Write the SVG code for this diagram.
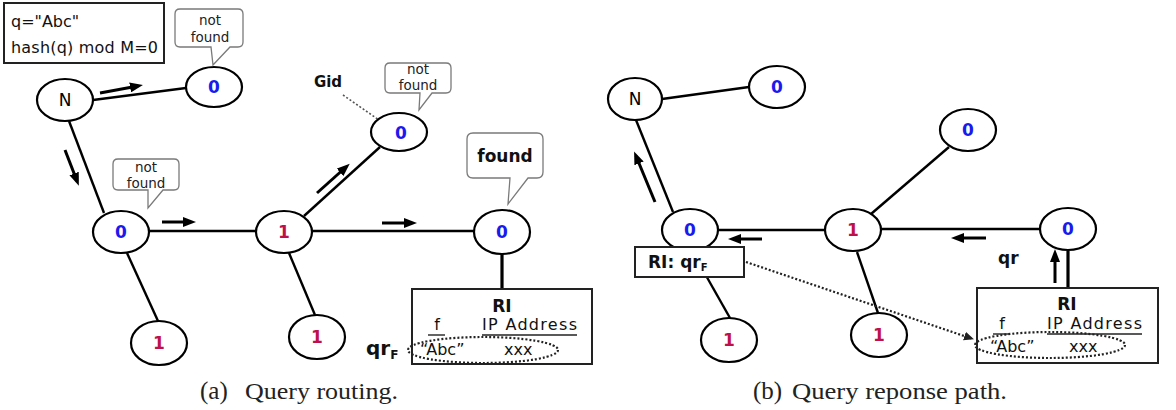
<svg xmlns="http://www.w3.org/2000/svg" width="1176" height="410" viewBox="0 0 1176 410">
<defs>
<marker id="ah" markerUnits="userSpaceOnUse" markerWidth="13" markerHeight="10" refX="8" refY="5" orient="auto">
<path d="M0,0 L13,5 L0,10 Z" fill="#000"/>
</marker>
<marker id="ahs" markerUnits="userSpaceOnUse" markerWidth="10" markerHeight="9" refX="9" refY="4.5" orient="auto">
<path d="M0,0 L10,4.5 L0,9 Z" fill="#222"/>
</marker>
<marker id="ahg" markerUnits="userSpaceOnUse" markerWidth="10" markerHeight="9" refX="9" refY="4.5" orient="auto">
<path d="M0,0.5 L9,4.5 L0,8.5" fill="none" stroke="#555" stroke-width="1.5"/>
</marker>
</defs>
<style>
.nd{fill:#fff;stroke:#000;stroke-width:2.2}
.ed{stroke:#000;stroke-width:2.4;fill:none}
.thick{stroke:#000;stroke-width:3.2}
.arr{stroke:#000;stroke-width:3;marker-end:url(#ah)}
.t{font-family:"DejaVu Sans",sans-serif;text-anchor:middle}
.b0{fill:#1a1aee;font-weight:bold;font-size:17px}
.b1{fill:#c0104a;font-weight:bold;font-size:17px}
.bub{fill:#fff;stroke:#7a7a7a;stroke-width:1.3}
.bt{font-family:"DejaVu Sans",sans-serif;font-size:13.5px;fill:#222;text-anchor:middle}
.box{fill:#fff;stroke:#222;stroke-width:2}
.rt{font-family:"DejaVu Sans",sans-serif;font-size:16px;fill:#111}
.cap{font-family:"Liberation Serif",serif;fill:#222}
.dot{stroke:#222;stroke-width:2.2;stroke-dasharray:2 2;fill:none}
</style>

<!-- connectors -->
<g id="connectors">
<!-- panel a edges -->
<line class="ed" x1="93" y1="100" x2="186" y2="88"/>
<line class="ed" x1="69" y1="121" x2="104" y2="213"/>
<line class="ed" x1="149" y1="231" x2="256" y2="231"/>
<line class="ed" x1="304" y1="216" x2="380" y2="147"/>
<line class="ed" x1="312" y1="231" x2="474" y2="231"/>
<line class="ed" x1="127" y1="253" x2="158" y2="321"/>
<line class="ed" x1="289" y1="253" x2="315" y2="315"/>
<line class="thick" x1="502" y1="254" x2="502" y2="289"/>
<!-- panel a arrows -->
<line class="arr" x1="100" y1="93" x2="138" y2="86"/>
<line class="arr" x1="65" y1="150" x2="77" y2="181"/>
<line class="arr" x1="162" y1="222" x2="191" y2="222"/>
<line class="arr" x1="317" y1="193" x2="346" y2="167"/>
<line class="arr" x1="382" y1="223" x2="412" y2="223"/>
<line x1="343" y1="95" x2="389" y2="127" stroke="#555" stroke-width="1.6" stroke-dasharray="2 2" marker-end="url(#ahg)"/>
<!-- panel b edges -->
<line class="ed" x1="662" y1="99" x2="749" y2="87"/>
<line class="ed" x1="636" y1="120" x2="673" y2="212"/>
<line class="ed" x1="718" y1="230" x2="825" y2="230"/>
<line class="ed" x1="871" y1="214" x2="949" y2="147"/>
<line class="ed" x1="881" y1="229" x2="1040" y2="229"/>
<line class="ed" x1="700" y1="265" x2="730" y2="318"/>
<line class="ed" x1="857" y1="252" x2="878" y2="313"/>
<line class="thick" x1="1068" y1="251" x2="1068" y2="288"/>
<!-- panel b arrows -->
<line class="arr" x1="655" y1="202" x2="636" y2="156"/>
<line class="arr" x1="762" y1="239" x2="733" y2="239"/>
<line class="arr" x1="986" y1="238" x2="956" y2="238"/>
<line class="arr" x1="1055" y1="283" x2="1055" y2="254"/>
</g>

<!-- query box -->
<g id="query-box">
<rect class="box" x="4" y="3" width="160" height="60"/>
<text class="rt" x="11" y="27" font-size="16">q="Abc"</text>
<text class="rt" x="11" y="53" font-size="16" textLength="147">hash(q) mod M=0</text>
</g>

<!-- panel a nodes -->
<g id="a-N"><ellipse class="nd" cx="65" cy="100" rx="28" ry="21"/><text class="t" x="65" y="106" font-size="17">N</text></g>
<g id="a-top0"><ellipse class="nd" cx="214" cy="87" rx="28" ry="20"/><text class="t b0" x="214" y="93">0</text></g>
<g id="a-mid0"><ellipse class="nd" cx="121" cy="232" rx="28" ry="21"/><text class="t b0" x="121" y="238">0</text></g>
<g id="a-mid1"><ellipse class="nd" cx="284" cy="232" rx="28" ry="21"/><text class="t b1" x="284" y="238">1</text></g>
<g id="a-gid0"><ellipse class="nd" cx="399" cy="132" rx="28" ry="19"/><text class="t b0" x="401" y="139">0</text></g>
<g id="a-right0"><ellipse class="nd" cx="502" cy="232" rx="28" ry="22"/><text class="t b0" x="502" y="238">0</text></g>
<g id="a-bot1a"><ellipse class="nd" cx="159" cy="343" rx="28" ry="22"/><text class="t b1" x="159" y="349">1</text></g>
<g id="a-bot1b"><ellipse class="nd" cx="317" cy="337" rx="28" ry="22"/><text class="t b1" x="317" y="343">1</text></g>

<!-- bubbles -->
<g id="bubble-a1">
<path class="bub" d="M180,9 H238 Q243,9 243,14 V42 Q243,47 238,47 H230 L213,65 L211,47 H180 Q175,47 175,42 V14 Q175,9 180,9 Z"/>
<text class="bt" x="210" y="25">not</text><text class="bt" x="210" y="42">found</text>
</g>
<g id="bubble-a2">
<path class="bub" d="M390,63 H446 Q451,63 451,68 V88 Q451,93 446,93 H432 L419,110 L420,93 H390 Q385,93 385,88 V68 Q385,63 390,63 Z"/>
<text class="bt" x="418" y="74">not</text><text class="bt" x="418" y="90">found</text>
</g>
<g id="bubble-a3">
<path class="bub" d="M118,159 H174 Q179,159 179,164 V185 Q179,190 174,190 H163 L148,208 L148,190 H118 Q113,190 113,185 V164 Q113,159 118,159 Z"/>
<text class="bt" x="146" y="172">not</text><text class="bt" x="146" y="188">found</text>
</g>
<g id="bubble-found">
<path class="bub" d="M473,133 H537 Q543,133 543,139 V172 Q543,178 537,178 H528 L508,204 L510,178 H473 Q467,178 467,172 V139 Q467,133 473,133 Z"/>
<text class="t" x="505" y="162" font-size="17" font-weight="bold" fill="#111">found</text>
</g>

<g id="gid-label"><text class="t" x="328" y="87" font-size="15" font-weight="bold" fill="#111">Gid</text></g>

<!-- RI box panel a -->
<g id="a-RI">
<rect class="box" x="412" y="289" width="180" height="75"/>
<text class="t" x="502" y="312" font-size="17" font-weight="bold" fill="#111">RI</text>
<text class="rt" x="437" y="330" text-anchor="middle">f</text>
<text class="rt" x="482" y="330" textLength="95">IP Address</text>
<line x1="428" y1="335" x2="445" y2="335" stroke="#222" stroke-width="1.4"/>
<line x1="482" y1="335" x2="577" y2="335" stroke="#222" stroke-width="1.4"/>
<text class="rt" x="420" y="355">“Abc”</text>
<text class="rt" x="504" y="355">xxx</text>
<ellipse class="dot" cx="483" cy="350" rx="75" ry="13"/>
</g>
<g id="a-qrF">
<text x="366" y="355" font-family="DejaVu Sans,sans-serif" font-size="20" font-weight="bold" fill="#111">qr<tspan font-size="12" dy="4">F</tspan></text>
</g>

<!-- panel b nodes -->
<g id="b-N"><ellipse class="nd" cx="635" cy="99" rx="27" ry="21"/><text class="t" x="635" y="105" font-size="17">N</text></g>
<g id="b-top0"><ellipse class="nd" cx="777" cy="87" rx="28" ry="21"/><text class="t b0" x="777" y="93">0</text></g>
<g id="b-mid0"><ellipse class="nd" cx="690" cy="230" rx="28" ry="21"/><text class="t b0" x="690" y="236">0</text></g>
<g id="b-mid1"><ellipse class="nd" cx="853" cy="230" rx="28" ry="21"/><text class="t b1" x="853" y="236">1</text></g>
<g id="b-topright0"><ellipse class="nd" cx="968" cy="130" rx="28" ry="21"/><text class="t b0" x="968" y="136">0</text></g>
<g id="b-right0"><ellipse class="nd" cx="1068" cy="229" rx="28" ry="21"/><text class="t b0" x="1068" y="235">0</text></g>
<g id="b-bot1a"><ellipse class="nd" cx="729" cy="340" rx="28" ry="22"/><text class="t b1" x="729" y="346">1</text></g>
<g id="b-bot1b"><ellipse class="nd" cx="879" cy="335" rx="28" ry="22"/><text class="t b1" x="879" y="341">1</text></g>

<g id="b-RIqr">
<rect class="box" x="635" y="247" width="109" height="30" fill="#fafafa"/>
<text x="648" y="268" font-family="DejaVu Sans,sans-serif" font-size="17" font-weight="bold" fill="#111">RI: qr<tspan font-size="10" dy="3">F</tspan></text>
</g>

<g id="b-qr"><text x="998" y="264" font-family="DejaVu Sans,sans-serif" font-size="17" font-weight="bold" fill="#111">qr</text></g>

<g id="b-RI">
<rect class="box" x="977" y="288" width="181" height="75"/>
<text class="t" x="1067" y="310" font-size="17" font-weight="bold" fill="#111">RI</text>
<text class="rt" x="1002" y="329" text-anchor="middle">f</text>
<text class="rt" x="1047" y="329" textLength="95">IP Address</text>
<line x1="993" y1="334" x2="1010" y2="334" stroke="#222" stroke-width="1.4"/>
<line x1="1047" y1="334" x2="1142" y2="334" stroke="#222" stroke-width="1.4"/>
<text class="rt" x="990" y="352">“Abc”</text>
<text class="rt" x="1069" y="352">xxx</text>
<ellipse class="dot" cx="1050" cy="345" rx="75" ry="13"/>
</g>

<g id="b-dotted-link">
<line x1="746" y1="262" x2="973" y2="339" stroke="#222" stroke-width="2.2" stroke-dasharray="2 2" marker-end="url(#ahs)"/>
</g>

<!-- captions -->
<g id="caption-a">
<text class="cap" x="200" y="399" font-size="25">(a)</text>
<text class="cap" x="245" y="399" font-size="23" textLength="153" lengthAdjust="spacingAndGlyphs">Query routing.</text>
</g>
<g id="caption-b">
<text class="cap" x="753" y="399" font-size="25">(b)</text>
<text class="cap" x="792" y="399" font-size="23" textLength="215" lengthAdjust="spacingAndGlyphs">Query reponse path.</text>
</g>
</svg>
